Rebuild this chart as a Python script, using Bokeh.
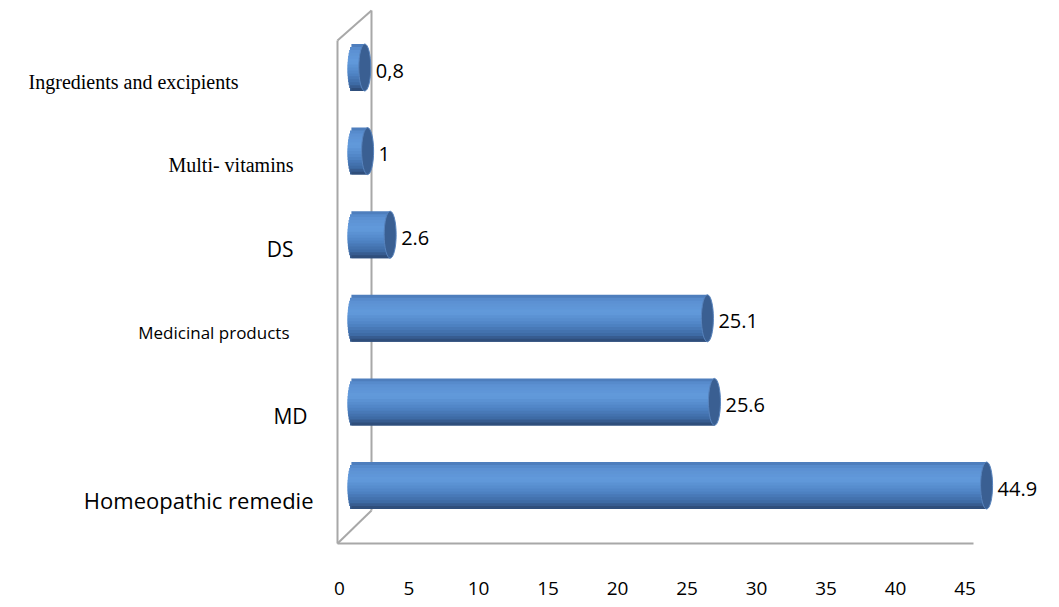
import numpy as np
from bokeh.plotting import figure
from bokeh.models import ColumnDataSource, Range1d, LinearAxis, FixedTicker
from bokeh.core.properties import value
from bokeh.embed import file_html
from bokeh.resources import INLINE

# ---------------- data ----------------
categories = ["Homeopathic remedie", "MD", "Medicinal products", "DS",
              "Multi- vitamins", "Ingredients and excipients"]
values = [44.9, 25.6, 25.1, 2.6, 1.0, 0.8]
value_labels = ["44.9", "25.6", "25.1", "2.6", "1", "0,8"]
x_ticks = [0, 5, 10, 15, 20, 25, 30, 35, 40, 45]

# ---------------- styles ----------------
label_fonts = ["Open Sans", "Open Sans", "Open Sans", "Open Sans",
               "Liberation Serif", "Liberation Serif"]
label_sizes = ["22px", "21px", "17px", "21px", "20px", "20px"]
label_right_px = [313, 307, 289, 293, 293, 238]

W = 1059
H = 607
BOTTOM = 38
FRAME_H = H - BOTTOM
X0_PX, PX = 353.0, 14.1          # bar plane: screen x of value 0, px per unit
AX0_PX, AXPX = 339.0, 13.9       # front plane (tick labels)
Y0_PX, ROW_PX = 485.0, 83.6      # screen y of first category, row spacing
BAR_H = 47.0 / ROW_PX
CAP_W = 12.0 / PX

def dx(px):
    return (px - X0_PX) / PX

def dy(py):
    return (Y0_PX - py) / ROW_PX

p = figure(frame_width=W, frame_height=FRAME_H,
           x_range=Range1d(-X0_PX / PX, (W - X0_PX) / PX),
           y_range=Range1d((Y0_PX - FRAME_H) / ROW_PX, Y0_PX / ROW_PX),
           output_backend="svg", toolbar_location=None,
           x_axis_location=None, y_axis_location=None,
           min_border=0, min_border_left=0, min_border_right=0,
           min_border_top=0, min_border_bottom=BOTTOM,
           outline_line_color=None, background_fill_color="white")
p.xgrid.visible = False
p.ygrid.visible = False

p.extra_x_ranges = {"front": Range1d(-AX0_PX / AXPX, (W - AX0_PX) / AXPX)}
ax = LinearAxis(x_range_name="front", ticker=FixedTicker(ticks=x_ticks))
ax.axis_line_color = None
ax.major_tick_line_color = None
ax.minor_tick_line_color = None
ax.major_label_standoff = 6
ax.major_label_text_font = "Open Sans"
ax.major_label_text_font_size = "19px"
ax.major_label_text_color = "#000000"
p.add_layout(ax, "below")

# ---------------- 3D box (wall + floor) ----------------
GRAY = "#a8a8a8"
p.segment(x0=[dx(371), dx(337), dx(337)], y0=[dy(510), dy(40), dy(543)],
          x1=[dx(371), dx(371), dx(371)], y1=[dy(10), dy(10), dy(510)],
          line_color=GRAY, line_width=2)

# ---------------- cylinders ----------------
stops_t = [0.0, 0.12, 0.38, 0.62, 0.85, 1.0]
stops_c = ["#4a78b6", "#5b90d2", "#629adb", "#5085c6", "#3e6aa4", "#2b4670"]

def hex2rgb(h):
    return [int(h[i:i + 2], 16) for i in (1, 3, 5)]

rgb = np.array([hex2rgb(c) for c in stops_c], dtype=float)

def colour_at(t):
    c = [np.interp(t, stops_t, rgb[:, j]) for j in range(3)]
    return "#%02x%02x%02x" % tuple(int(round(v)) for v in c)

N = 16
s = BAR_H / N
sy, sh, sl, sr, sc = [], [], [], [], []
for i, v in enumerate(values):
    top = i + BAR_H / 2
    bottom = i - BAR_H / 2
    for k in range(N):
        t = (k + 0.5) / N
        y_top = top - k * s
        y_bot = max(top - (k + 2) * s, bottom)
        sy.append((y_top + y_bot) / 2)
        sh.append(y_top - y_bot)
        sl.append(-(CAP_W / 2) * np.sqrt(max(0.0, 1 - (2 * t - 1) ** 2)))
        sr.append(v)
        sc.append(colour_at(t))
stripes = ColumnDataSource(dict(y=sy, h=sh, left=sl, right=sr, color=sc))
p.hbar(y="y", left="left", right="right", height="h",
       fill_color="color", line_color=None, source=stripes)

ys = list(range(len(categories)))
p.ellipse(x=values, y=ys, width=CAP_W, height=BAR_H,
          fill_color="#3a5f92", line_color="#5783bd", line_width=1)

# front vertical + floor
p.segment(x0=[dx(337), dx(337)], y0=[dy(40), dy(543)],
          x1=[dx(337), dx(973)], y1=[dy(543), dy(543)],
          line_color=GRAY, line_width=2)

# ---------------- labels ----------------
lab = ColumnDataSource(dict(
    x=[0.0] * len(categories),
    y=[i - 14.0 / ROW_PX for i in ys],
    text=categories,
    font=label_fonts,
    size=label_sizes,
    xoff=[r - X0_PX for r in label_right_px],
))
p.text(x="x", y="y", text="text", text_font="font", text_font_size="size",
       x_offset="xoff", text_align="right", text_baseline="middle",
       text_color="#000000", source=lab)

vals = ColumnDataSource(dict(x=values, y=[i - 3.0 / ROW_PX for i in ys],
                             text=value_labels))
p.text(x="x", y="y", text="text", text_font=value("Open Sans"),
       text_font_size="20px", x_offset=11, text_align="left",
       text_baseline="middle", text_color="#000000", source=vals)

open("out.html", "w").write(file_html(p, INLINE))
